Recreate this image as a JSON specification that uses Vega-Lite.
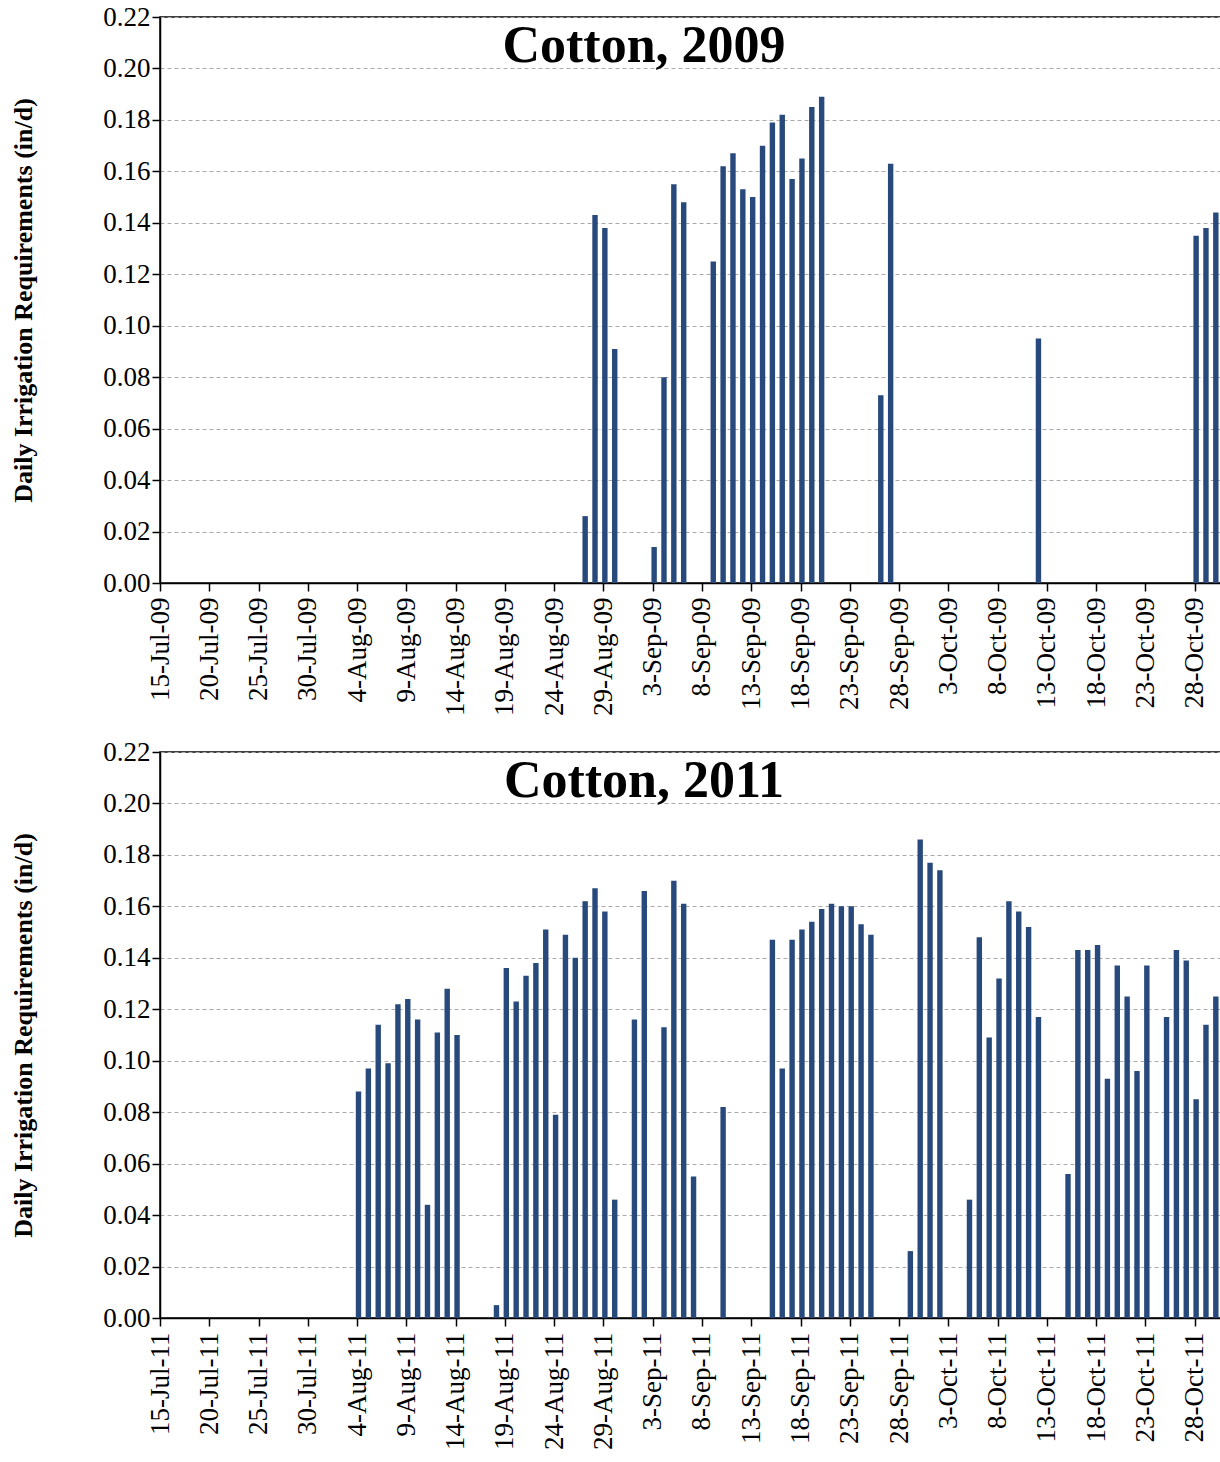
{
  "$schema": "https://vega.github.io/schema/vega-lite/v6.json",
  "padding": {"left": 10, "top": 2, "right": 0, "bottom": 0},
  "spacing": 20,
  "config": {
    "font": "Liberation Serif",
    "view": {"stroke": "black", "strokeWidth": 1.5},
    "axis": {
      "labelFont": "Liberation Serif", "labelFontSize": 27, "labelColor": "black",
      "titleFont": "Liberation Serif", "titleFontSize": 26, "titleColor": "black",
      "domainColor": "black", "tickColor": "black", "domainWidth": 1.5, "tickWidth": 1.5, "tickSize": 8
    },
    "title": {"font": "Liberation Serif", "fontSize": 52, "fontWeight": "bold", "color": "black", "offset": -70, "dx": -51}
  },
  "datasets": {
    "y2009": [
      {"date": "2009-08-27", "v": 0.026}, {"date": "2009-08-28", "v": 0.143}, {"date": "2009-08-29", "v": 0.138}, {"date": "2009-08-30", "v": 0.091},
      {"date": "2009-09-03", "v": 0.014}, {"date": "2009-09-04", "v": 0.080}, {"date": "2009-09-05", "v": 0.155}, {"date": "2009-09-06", "v": 0.148},
      {"date": "2009-09-09", "v": 0.125}, {"date": "2009-09-10", "v": 0.162}, {"date": "2009-09-11", "v": 0.167}, {"date": "2009-09-12", "v": 0.153},
      {"date": "2009-09-13", "v": 0.150}, {"date": "2009-09-14", "v": 0.170}, {"date": "2009-09-15", "v": 0.179}, {"date": "2009-09-16", "v": 0.182},
      {"date": "2009-09-17", "v": 0.157}, {"date": "2009-09-18", "v": 0.165}, {"date": "2009-09-19", "v": 0.185}, {"date": "2009-09-20", "v": 0.189},
      {"date": "2009-09-26", "v": 0.073}, {"date": "2009-09-27", "v": 0.163},
      {"date": "2009-10-12", "v": 0.095},
      {"date": "2009-10-28", "v": 0.135}, {"date": "2009-10-29", "v": 0.138}, {"date": "2009-10-30", "v": 0.144}
    ],
    "y2011": [
      {"date": "2011-08-04", "v": 0.088}, {"date": "2011-08-05", "v": 0.097}, {"date": "2011-08-06", "v": 0.114}, {"date": "2011-08-07", "v": 0.099},
      {"date": "2011-08-08", "v": 0.122}, {"date": "2011-08-09", "v": 0.124}, {"date": "2011-08-10", "v": 0.116}, {"date": "2011-08-11", "v": 0.044},
      {"date": "2011-08-12", "v": 0.111}, {"date": "2011-08-13", "v": 0.128}, {"date": "2011-08-14", "v": 0.110},
      {"date": "2011-08-18", "v": 0.005}, {"date": "2011-08-19", "v": 0.136}, {"date": "2011-08-20", "v": 0.123}, {"date": "2011-08-21", "v": 0.133},
      {"date": "2011-08-22", "v": 0.138}, {"date": "2011-08-23", "v": 0.151}, {"date": "2011-08-24", "v": 0.079}, {"date": "2011-08-25", "v": 0.149},
      {"date": "2011-08-26", "v": 0.140}, {"date": "2011-08-27", "v": 0.162}, {"date": "2011-08-28", "v": 0.167}, {"date": "2011-08-29", "v": 0.158},
      {"date": "2011-08-30", "v": 0.046},
      {"date": "2011-09-01", "v": 0.116}, {"date": "2011-09-02", "v": 0.166}, {"date": "2011-09-04", "v": 0.113}, {"date": "2011-09-05", "v": 0.170},
      {"date": "2011-09-06", "v": 0.161}, {"date": "2011-09-07", "v": 0.055}, {"date": "2011-09-10", "v": 0.082},
      {"date": "2011-09-15", "v": 0.147}, {"date": "2011-09-16", "v": 0.097}, {"date": "2011-09-17", "v": 0.147}, {"date": "2011-09-18", "v": 0.151},
      {"date": "2011-09-19", "v": 0.154}, {"date": "2011-09-20", "v": 0.159}, {"date": "2011-09-21", "v": 0.161}, {"date": "2011-09-22", "v": 0.160},
      {"date": "2011-09-23", "v": 0.160}, {"date": "2011-09-24", "v": 0.153}, {"date": "2011-09-25", "v": 0.149},
      {"date": "2011-09-29", "v": 0.026}, {"date": "2011-09-30", "v": 0.186}, {"date": "2011-10-01", "v": 0.177}, {"date": "2011-10-02", "v": 0.174},
      {"date": "2011-10-05", "v": 0.046}, {"date": "2011-10-06", "v": 0.148}, {"date": "2011-10-07", "v": 0.109}, {"date": "2011-10-08", "v": 0.132},
      {"date": "2011-10-09", "v": 0.162}, {"date": "2011-10-10", "v": 0.158}, {"date": "2011-10-11", "v": 0.152}, {"date": "2011-10-12", "v": 0.117},
      {"date": "2011-10-15", "v": 0.056}, {"date": "2011-10-16", "v": 0.143}, {"date": "2011-10-17", "v": 0.143}, {"date": "2011-10-18", "v": 0.145},
      {"date": "2011-10-19", "v": 0.093}, {"date": "2011-10-20", "v": 0.137}, {"date": "2011-10-21", "v": 0.125}, {"date": "2011-10-22", "v": 0.096},
      {"date": "2011-10-23", "v": 0.137},
      {"date": "2011-10-25", "v": 0.117}, {"date": "2011-10-26", "v": 0.143}, {"date": "2011-10-27", "v": 0.139}, {"date": "2011-10-28", "v": 0.085},
      {"date": "2011-10-29", "v": 0.114}, {"date": "2011-10-30", "v": 0.125}, {"date": "2011-10-31", "v": 0.135}
    ]
  },
  "vconcat": [
    {
      "title": "Cotton, 2009",
      "width": 1070, "height": 566,
      "data": {"name": "y2009"},
      "mark": {"type": "bar", "color": "#27497b", "width": {"band": 0.65}, "xOffset": -4, "clip": true},
      "encoding": {
        "x": {
          "field": "date", "timeUnit": "utcyearmonthdate", "type": "temporal", "title": null,
          "scale": {"domain": [{"year": 2009, "month": 7, "date": 15, "utc": true}, {"year": 2009, "month": 10, "date": 31, "hours": 14, "utc": true}]},
          "axis": {
            "format": "%-d-%b-%y", "labelAngle": -90, "grid": false, "labelPadding": 6,
            "values": [
              {"year": 2009, "month": 7, "date": 15, "utc": true}, {"year": 2009, "month": 7, "date": 20, "utc": true},
              {"year": 2009, "month": 7, "date": 25, "utc": true}, {"year": 2009, "month": 7, "date": 30, "utc": true},
              {"year": 2009, "month": 8, "date": 4, "utc": true}, {"year": 2009, "month": 8, "date": 9, "utc": true},
              {"year": 2009, "month": 8, "date": 14, "utc": true}, {"year": 2009, "month": 8, "date": 19, "utc": true},
              {"year": 2009, "month": 8, "date": 24, "utc": true}, {"year": 2009, "month": 8, "date": 29, "utc": true},
              {"year": 2009, "month": 9, "date": 3, "utc": true}, {"year": 2009, "month": 9, "date": 8, "utc": true},
              {"year": 2009, "month": 9, "date": 13, "utc": true}, {"year": 2009, "month": 9, "date": 18, "utc": true},
              {"year": 2009, "month": 9, "date": 23, "utc": true}, {"year": 2009, "month": 9, "date": 28, "utc": true},
              {"year": 2009, "month": 10, "date": 3, "utc": true}, {"year": 2009, "month": 10, "date": 8, "utc": true},
              {"year": 2009, "month": 10, "date": 13, "utc": true}, {"year": 2009, "month": 10, "date": 18, "utc": true},
              {"year": 2009, "month": 10, "date": 23, "utc": true}, {"year": 2009, "month": 10, "date": 28, "utc": true}
            ]
          }
        },
        "y": {
          "field": "v", "type": "quantitative", "title": "Daily Irrigation Requirements (in/d)",
          "scale": {"domain": [0, 0.22], "nice": false},
          "axis": {"format": ".2f", "values": [0, 0.02, 0.04, 0.06, 0.08, 0.1, 0.12, 0.14, 0.16, 0.18, 0.2, 0.22], "gridDash": [4, 3], "gridColor": "#aaaaaa", "titleFontWeight": "bold", "titlePadding": 66}
        }
      }
    },
    {
      "title": "Cotton, 2011",
      "width": 1070, "height": 566,
      "data": {"name": "y2011"},
      "mark": {"type": "bar", "color": "#27497b", "width": {"band": 0.65}, "xOffset": -4, "clip": true},
      "encoding": {
        "x": {
          "field": "date", "timeUnit": "utcyearmonthdate", "type": "temporal", "title": null,
          "scale": {"domain": [{"year": 2011, "month": 7, "date": 15, "utc": true}, {"year": 2011, "month": 10, "date": 31, "hours": 14, "utc": true}]},
          "axis": {
            "format": "%-d-%b-%y", "labelAngle": -90, "grid": false, "labelPadding": 6,
            "values": [
              {"year": 2011, "month": 7, "date": 15, "utc": true}, {"year": 2011, "month": 7, "date": 20, "utc": true},
              {"year": 2011, "month": 7, "date": 25, "utc": true}, {"year": 2011, "month": 7, "date": 30, "utc": true},
              {"year": 2011, "month": 8, "date": 4, "utc": true}, {"year": 2011, "month": 8, "date": 9, "utc": true},
              {"year": 2011, "month": 8, "date": 14, "utc": true}, {"year": 2011, "month": 8, "date": 19, "utc": true},
              {"year": 2011, "month": 8, "date": 24, "utc": true}, {"year": 2011, "month": 8, "date": 29, "utc": true},
              {"year": 2011, "month": 9, "date": 3, "utc": true}, {"year": 2011, "month": 9, "date": 8, "utc": true},
              {"year": 2011, "month": 9, "date": 13, "utc": true}, {"year": 2011, "month": 9, "date": 18, "utc": true},
              {"year": 2011, "month": 9, "date": 23, "utc": true}, {"year": 2011, "month": 9, "date": 28, "utc": true},
              {"year": 2011, "month": 10, "date": 3, "utc": true}, {"year": 2011, "month": 10, "date": 8, "utc": true},
              {"year": 2011, "month": 10, "date": 13, "utc": true}, {"year": 2011, "month": 10, "date": 18, "utc": true},
              {"year": 2011, "month": 10, "date": 23, "utc": true}, {"year": 2011, "month": 10, "date": 28, "utc": true}
            ]
          }
        },
        "y": {
          "field": "v", "type": "quantitative", "title": "Daily Irrigation Requirements (in/d)",
          "scale": {"domain": [0, 0.22], "nice": false},
          "axis": {"format": ".2f", "values": [0, 0.02, 0.04, 0.06, 0.08, 0.1, 0.12, 0.14, 0.16, 0.18, 0.2, 0.22], "gridDash": [4, 3], "gridColor": "#aaaaaa", "titleFontWeight": "bold", "titlePadding": 66}
        }
      }
    }
  ]
}
